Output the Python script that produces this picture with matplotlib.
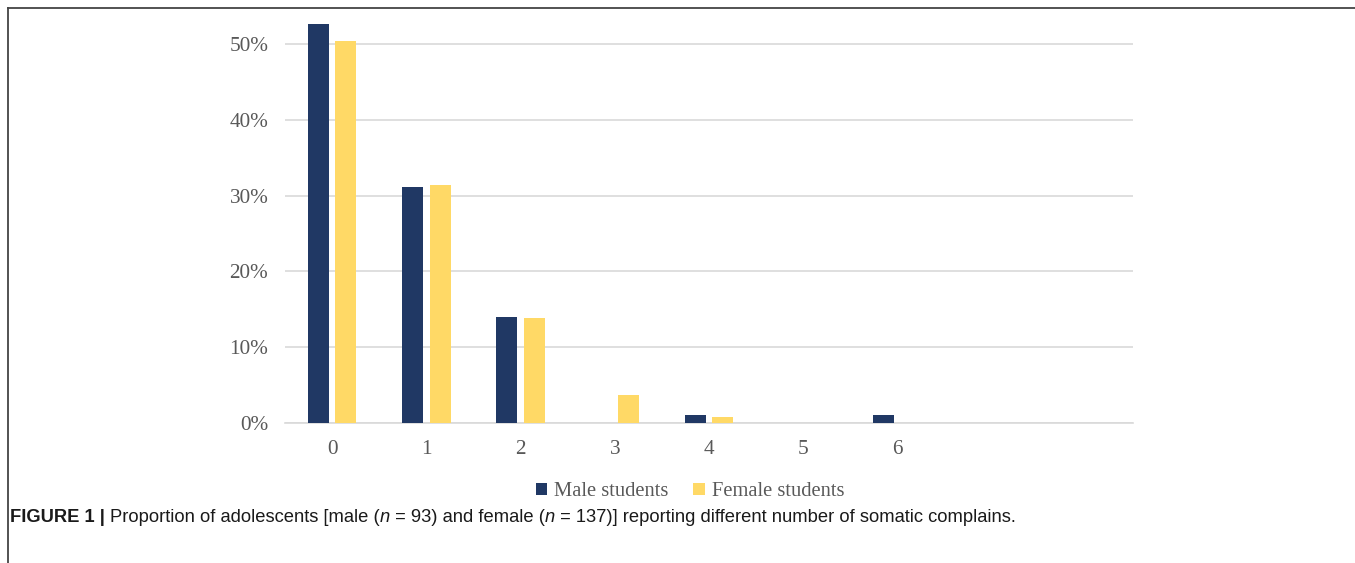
import matplotlib.pyplot as plt
from matplotlib.lines import Line2D
import numpy as np

# ==========================
# Data
# ==========================

categories = ["0", "1", "2", "3", "4", "5", "6", "", ""]
male = [52.7, 31.2, 14.0, 0.0, 1.08, 0.0, 1.08, 0.0, 0.0]
female = [50.4, 31.4, 13.9, 3.65, 0.73, 0.0, 0.0, 0.0, 0.0]
y_ticks = [0, 10, 20, 30, 40, 50]

navy = "#203864"
yellow = "#FFD966"
text_grey = "#595959"

W, H = 1355, 563
fig = plt.figure(figsize=(W / 100, H / 100), dpi=100)

# axes box in pixel units of the reference
left, right, bottom, top = 285, 1133, 423, 20
ax = fig.add_axes([left / W, 1 - bottom / H, (right - left) / W, (bottom - top) / H])

x = np.arange(len(categories))
width = 0.223
offset = 0.147

ax.bar(x - offset, male, width, color=navy, label="Male students", zorder=3)
ax.bar(x + offset, female, width, color=yellow, label="Female students", zorder=3)

ax.set_xlim(-0.5, len(categories) - 0.5)
ax.set_ylim(0, 53.2)
ax.set_xticks(x[:7])
ax.set_xticklabels(categories[:7])
ax.set_yticks(y_ticks)
ax.set_yticklabels([f"{t}%" for t in y_ticks])

ax.grid(axis="y", color="#d9d9d9", linewidth=1.2, zorder=0)
for s in ["top", "right", "left"]:
    ax.spines[s].set_visible(False)
ax.spines["bottom"].set_color("#d9d9d9")
ax.spines["bottom"].set_linewidth(1.2)

ax.tick_params(length=0, labelsize=15.3, labelcolor=text_grey,
               labelfontfamily="Liberation Serif")
ax.tick_params(axis="y", pad=12)
ax.tick_params(axis="x", pad=12)

leg = fig.legend(loc="center", bbox_to_anchor=(690 / W, 1 - 492 / H),
                 ncol=2, frameon=False, handlelength=0.55, handleheight=0.55,
                 handletextpad=0.35, columnspacing=1.2,
                 prop={"family": "Liberation Serif", "size": 14.8})
for t in leg.get_texts():
    t.set_color(text_grey)

# ==========================
# Frame lines
# ==========================

fig.add_artist(Line2D([8 / W, 1], [1 - 8 / H, 1 - 8 / H], color="#444444", lw=1.3))
fig.add_artist(Line2D([8 / W, 8 / W], [0, 1 - 8 / H], color="#444444", lw=1.3))

# ==========================
# Caption
# ==========================

pieces = [
    ("Proportion of adolescents [male (", "normal", "normal"),
    ("n", "normal", "italic"),
    (" = 93) and female (", "normal", "normal"),
    ("n", "normal", "italic"),
    (" = 137)] reporting different number of somatic complains.", "normal", "normal"),
]

prev = fig.text(10 / W, 1 - 517 / H, "FIGURE 1 | ", fontsize=13.2, weight="bold",
                family="Liberation Sans", va="center", color="#1a1a1a")
for txt, w, st in pieces:
    prev = ax.annotate(txt, xy=(1, 0), xycoords=prev, xytext=(0, 0),
                       textcoords="offset points", va="bottom", ha="left",
                       fontsize=13.2, weight=w, style=st,
                       family="Liberation Sans", color="#1a1a1a",
                       annotation_clip=False)

fig.savefig("out.png", dpi=100)
